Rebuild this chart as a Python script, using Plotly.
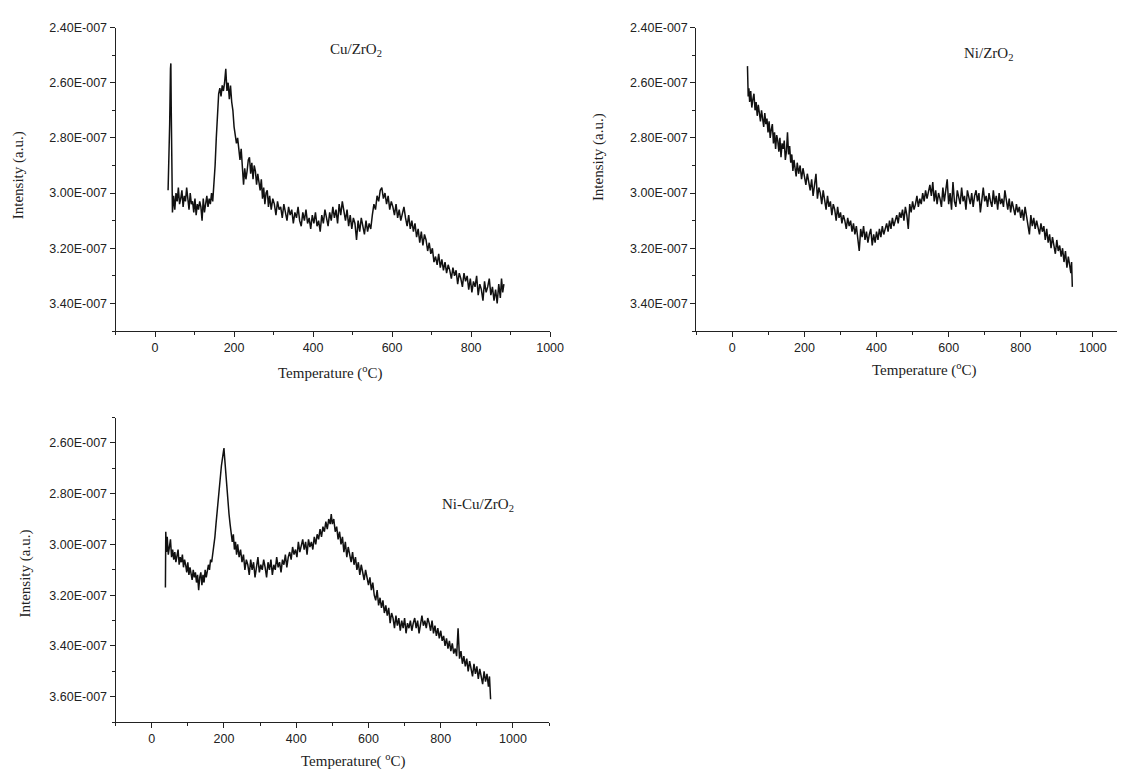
import plotly.graph_objects as go

W, H = 1132, 770

# ---------------- data (intensity in units of 1E-007) ----------------
cu_T = [33, 35, 37, 39, 40, 41, 42, 44, 47, 50,
        53, 56, 59, 62, 65, 68, 71, 74, 77, 80,
        83, 86, 89, 92, 95, 98, 101, 104, 107, 110,
        113, 116, 119, 122, 125, 128, 131, 134, 137, 140,
        143, 146, 149, 152, 155, 158, 161, 164, 167, 170,
        173, 176, 179, 182, 185, 188, 191, 194, 197, 200,
        203, 206, 209, 212, 215, 218, 221, 224, 227, 230,
        233, 236, 239, 242, 245, 248, 251, 254, 257, 260,
        263, 266, 269, 272, 275, 278, 281, 284, 287, 290,
        294, 298, 302, 306, 310, 314, 318, 322, 326, 330,
        334, 338, 342, 346, 350, 354, 358, 362, 366, 370,
        374, 378, 382, 386, 390, 394, 398, 402, 406, 410,
        414, 418, 422, 426, 430, 434, 438, 442, 446, 450,
        454, 458, 462, 466, 470, 474, 478, 482, 486, 490,
        494, 498, 502, 506, 510, 514, 518, 522, 526, 530,
        534, 538, 542, 546, 550, 554, 558, 562, 566, 570,
        574, 578, 582, 586, 590, 594, 598, 602, 606, 610,
        614, 618, 622, 626, 630, 634, 638, 642, 646, 650,
        654, 658, 662, 666, 670, 674, 678, 682, 686, 690,
        694, 698, 702, 706, 710, 714, 718, 722, 726, 730,
        734, 738, 742, 746, 750, 754, 758, 762, 766, 770,
        774, 778, 782, 786, 790, 794, 798, 802, 806, 810,
        814, 818, 822, 826, 830, 834, 838, 842, 846, 850,
        854, 858, 862, 866, 870, 874, 877, 880, 883]
cu_I = [2.99, 2.90, 2.75, 2.55, 2.53, 2.70, 2.98, 3.07, 3.01, 3.06,
        3.00, 3.03, 2.98, 3.04, 3.02, 2.99, 3.05, 3.01, 3.03, 2.98,
        3.02, 3.06, 3.00, 3.04, 3.03, 3.07, 3.02, 3.08, 3.04, 3.06,
        3.03, 3.05, 3.10, 3.02, 3.07, 3.04, 3.01, 3.05, 3.02, 3.04,
        3.00, 3.03, 2.97, 2.90, 2.80, 2.70, 2.64, 2.62, 2.65, 2.61,
        2.63, 2.60, 2.55, 2.63, 2.60, 2.66, 2.61, 2.67, 2.70, 2.76,
        2.79, 2.82, 2.80, 2.85, 2.88, 2.84, 2.90, 2.97, 2.91, 2.95,
        2.92, 2.88, 2.87, 2.93, 2.89, 2.95, 2.90, 2.92, 2.97, 2.93,
        2.96, 2.99, 2.95, 3.02, 2.98, 3.04, 3.00, 2.99, 3.05, 3.01,
        3.06, 3.02, 3.04, 3.08, 3.03, 3.06, 3.05, 3.09, 3.04, 3.07,
        3.10, 3.05, 3.08, 3.06, 3.11, 3.07, 3.09, 3.05, 3.10, 3.12,
        3.07, 3.10, 3.06, 3.11, 3.09, 3.13, 3.08, 3.11, 3.07, 3.12,
        3.10, 3.14, 3.08, 3.11, 3.06, 3.09, 3.12, 3.07, 3.10, 3.05,
        3.09, 3.06, 3.11, 3.04, 3.08, 3.03, 3.07, 3.10, 3.06, 3.12,
        3.08, 3.13, 3.09, 3.11, 3.17, 3.10, 3.14, 3.09, 3.12, 3.15,
        3.10, 3.14, 3.11, 3.13, 3.08, 3.04, 3.06, 3.01, 3.03, 2.99,
        2.98, 3.02, 3.00, 3.04, 3.01, 3.06, 3.03, 3.05, 3.08, 3.04,
        3.09, 3.06, 3.10, 3.07, 3.05, 3.09, 3.12, 3.08, 3.13, 3.10,
        3.14, 3.11, 3.16, 3.13, 3.18, 3.14, 3.19, 3.15, 3.17, 3.21,
        3.18, 3.22, 3.20, 3.25, 3.23, 3.26, 3.22, 3.27, 3.24, 3.28,
        3.25, 3.29, 3.26, 3.28, 3.31, 3.27, 3.30, 3.28, 3.33, 3.29,
        3.31, 3.34, 3.29, 3.32, 3.30, 3.35, 3.31, 3.36, 3.32, 3.34,
        3.30, 3.37, 3.33, 3.35, 3.39, 3.32, 3.36, 3.34, 3.31, 3.37,
        3.34, 3.39, 3.35, 3.40, 3.33, 3.38, 3.31, 3.36, 3.33]

ni_T = [42, 44, 46, 48, 51, 54, 57, 60, 63, 66,
        69, 72, 75, 78, 81, 84, 87, 90, 93, 96,
        99, 102, 105, 108, 111, 114, 117, 120, 123, 126,
        129, 132, 135, 138, 141, 144, 147, 150, 153, 156,
        159, 162, 165, 168, 171, 174, 177, 180, 184, 188,
        192, 196, 200, 204, 208, 212, 216, 220, 224, 228,
        232, 236, 240, 244, 248, 252, 256, 260, 264, 268,
        272, 276, 280, 284, 288, 292, 296, 300, 304, 308,
        312, 316, 320, 324, 328, 332, 336, 340, 344, 348,
        352, 356, 360, 364, 368, 372, 376, 380, 384, 388,
        392, 396, 400, 404, 408, 412, 416, 420, 424, 428,
        432, 436, 440, 444, 448, 452, 456, 460, 464, 468,
        472, 476, 480, 484, 488, 492, 496, 500, 504, 508,
        512, 516, 520, 524, 528, 532, 536, 540, 544, 548,
        552, 556, 560, 564, 568, 572, 576, 580, 584, 588,
        592, 596, 600, 604, 608, 612, 616, 620, 624, 628,
        632, 636, 640, 644, 648, 652, 656, 660, 664, 668,
        672, 676, 680, 684, 688, 692, 696, 700, 704, 708,
        712, 716, 720, 724, 728, 732, 736, 740, 744, 748,
        752, 756, 760, 764, 768, 772, 776, 780, 784, 788,
        792, 796, 800, 804, 808, 812, 816, 820, 824, 828,
        832, 836, 840, 844, 848, 852, 856, 860, 864, 868,
        872, 876, 880, 884, 888, 892, 896, 900, 904, 908,
        912, 916, 920, 924, 928, 932, 936, 939, 941, 943]
ni_I = [2.54, 2.65, 2.62, 2.67, 2.63, 2.69, 2.66, 2.64, 2.70, 2.67,
        2.72, 2.68, 2.71, 2.74, 2.70, 2.73, 2.76, 2.71, 2.75, 2.73,
        2.78, 2.74, 2.80, 2.77, 2.75, 2.82, 2.78, 2.84, 2.79, 2.81,
        2.85, 2.80, 2.87, 2.82, 2.84, 2.81, 2.88, 2.85, 2.78, 2.86,
        2.83, 2.89, 2.86, 2.92, 2.88, 2.91, 2.94, 2.89, 2.93, 2.90,
        2.95, 2.91, 2.94, 2.97, 2.93, 2.96, 2.99, 2.95, 3.01, 2.97,
        2.93, 3.02, 2.98, 3.00, 3.04, 2.99, 3.03, 3.06, 3.01, 3.05,
        3.03, 3.08, 3.04, 3.06, 3.10, 3.05, 3.09, 3.07, 3.11, 3.08,
        3.10, 3.13, 3.09, 3.12, 3.10, 3.14, 3.11, 3.15, 3.12, 3.16,
        3.21, 3.13, 3.16, 3.12, 3.17, 3.14, 3.18, 3.15, 3.13, 3.19,
        3.15, 3.18, 3.14, 3.17, 3.13, 3.16, 3.12, 3.15, 3.13, 3.11,
        3.14, 3.10, 3.13, 3.09, 3.12, 3.10, 3.08, 3.11, 3.07, 3.09,
        3.06, 3.10, 3.05, 3.08, 3.13, 3.04, 3.07, 3.03, 3.06, 3.04,
        3.01, 3.05, 3.02, 3.04, 3.00, 3.03, 2.99, 3.02, 3.00, 2.97,
        3.01, 2.96, 3.03, 2.99, 3.04, 3.00, 3.02, 3.05, 2.98, 3.03,
        2.99, 2.95, 3.04, 3.00, 3.06, 2.96, 3.03, 3.05, 2.99, 3.02,
        3.04, 2.98, 3.03, 3.01, 3.06, 2.99, 3.02, 3.04, 3.00, 3.05,
        3.01, 2.99, 3.03, 3.00, 3.07, 3.02, 2.98, 3.03, 3.01, 3.05,
        3.00, 3.03, 3.05, 2.99, 3.04, 3.01, 3.06, 3.00, 3.04, 3.02,
        3.05, 2.99, 3.03, 3.06, 3.02, 3.07, 3.03, 3.05, 3.08, 3.04,
        3.07, 3.05, 3.09, 3.06, 3.10, 3.05, 3.08, 3.11, 3.15, 3.08,
        3.12, 3.09, 3.13, 3.10, 3.12, 3.15, 3.11, 3.14, 3.12, 3.17,
        3.13, 3.18, 3.15, 3.20, 3.16, 3.19, 3.22, 3.17, 3.21, 3.19,
        3.23, 3.20, 3.25, 3.21, 3.27, 3.23, 3.26, 3.29, 3.25, 3.34]

nicu_T = [38, 39, 41, 43, 46, 49, 52, 55, 58, 61,
          64, 67, 70, 73, 76, 79, 82, 85, 88, 91,
          94, 97, 100, 103, 106, 109, 112, 115, 118, 121,
          124, 127, 130, 133, 136, 139, 142, 145, 148, 151,
          154, 157, 160, 163, 166, 169, 172, 175, 178, 181,
          184, 187, 190, 193, 196, 198, 200, 202, 205, 208,
          211, 214, 217, 220, 223, 226, 229, 232, 235, 238,
          242, 246, 250, 254, 258, 262, 266, 270, 274, 278,
          282, 286, 290, 294, 298, 302, 306, 310, 314, 318,
          322, 326, 330, 334, 338, 342, 346, 350, 354, 358,
          362, 366, 370, 374, 378, 382, 386, 390, 394, 398,
          402, 406, 410, 414, 418, 422, 426, 430, 434, 438,
          442, 446, 450, 454, 458, 462, 466, 470, 474, 478,
          482, 486, 490, 494, 497, 500, 504, 508, 512, 516,
          520, 524, 528, 532, 536, 540, 544, 548, 552, 556,
          560, 564, 568, 572, 576, 580, 584, 588, 592, 596,
          600, 604, 608, 612, 616, 620, 624, 628, 632, 636,
          640, 644, 648, 652, 656, 660, 664, 668, 672, 676,
          680, 684, 688, 692, 696, 700, 704, 708, 712, 716,
          720, 724, 728, 732, 736, 740, 744, 748, 752, 756,
          760, 764, 768, 772, 776, 780, 784, 788, 792, 796,
          800, 804, 808, 812, 816, 820, 824, 828, 832, 836,
          840, 844, 848, 852, 856, 860, 864, 868, 872, 876,
          880, 884, 888, 892, 896, 900, 904, 908, 912, 916,
          920, 924, 928, 932, 935, 937, 938]
nicu_I = [3.17, 2.95, 3.03, 2.97, 3.04, 3.00, 2.98, 3.05, 3.02, 3.06,
          3.03, 3.07, 3.04, 3.02, 3.08, 3.05, 3.07, 3.04, 3.09, 3.06,
          3.08, 3.11, 3.07, 3.12, 3.09, 3.11, 3.14, 3.10, 3.13, 3.11,
          3.15, 3.12, 3.18, 3.13, 3.11, 3.16, 3.12, 3.15, 3.10, 3.13,
          3.11, 3.08, 3.10, 3.06, 3.07, 3.04, 3.02, 2.97, 2.92, 2.87,
          2.82, 2.77, 2.72, 2.69, 2.66, 2.64, 2.62, 2.66, 2.72, 2.79,
          2.84, 2.88, 2.92, 2.95, 2.99, 2.96, 3.02, 2.99, 3.04, 3.00,
          3.05, 3.02, 3.07, 3.04, 3.10, 3.06, 3.08, 3.12, 3.06, 3.10,
          3.07, 3.13, 3.08, 3.05, 3.11, 3.08, 3.10, 3.06, 3.09, 3.13,
          3.07, 3.10, 3.06, 3.12, 3.08, 3.10, 3.05, 3.09, 3.07, 3.11,
          3.06, 3.08, 3.04, 3.09, 3.05, 3.03, 3.06, 3.01, 3.04, 3.02,
          3.05, 2.99, 3.03, 3.00, 2.98, 3.02, 2.99, 3.04, 2.98, 3.01,
          2.99, 3.02, 2.97, 3.00, 2.96, 2.98, 2.94, 2.97, 2.93, 2.95,
          2.91, 2.94, 2.90, 2.92, 2.88, 2.92, 2.90, 2.95, 2.93, 2.98,
          2.95, 3.00, 2.97, 3.03, 2.99, 3.05, 3.01, 3.04, 3.07, 3.03,
          3.08, 3.05, 3.10, 3.07, 3.12, 3.08, 3.11, 3.14, 3.10, 3.13,
          3.16, 3.13, 3.18, 3.15, 3.20, 3.22, 3.18, 3.24, 3.21, 3.25,
          3.22, 3.27, 3.24, 3.28, 3.25, 3.31, 3.27, 3.29, 3.33, 3.28,
          3.32, 3.29, 3.34, 3.30, 3.33, 3.29, 3.35, 3.31, 3.33, 3.30,
          3.34, 3.31, 3.29, 3.33, 3.30, 3.35, 3.31, 3.28, 3.32, 3.30,
          3.33, 3.29, 3.31, 3.34, 3.30, 3.35, 3.32, 3.36, 3.33, 3.37,
          3.34, 3.38, 3.36, 3.40, 3.37, 3.41, 3.38, 3.42, 3.39, 3.43,
          3.41, 3.44, 3.33, 3.45, 3.42, 3.47, 3.44, 3.48, 3.45, 3.50,
          3.46, 3.49, 3.52, 3.47, 3.51, 3.48, 3.53, 3.49, 3.52, 3.55,
          3.50, 3.54, 3.51, 3.56, 3.52, 3.57, 3.61]

x_major = [0, 200, 400, 600, 800, 1000]
x_minor = [-100, 100, 300, 500, 700, 900, 1100]
y_major_top = [2.40, 2.60, 2.80, 3.00, 3.20, 3.40]
y_minor_top = [2.50, 2.70, 2.90, 3.10, 3.30, 3.50]
y_major_bot = [2.60, 2.80, 3.00, 3.20, 3.40, 3.60]
y_minor_bot = [2.50, 2.70, 2.90, 3.10, 3.30, 3.50, 3.70]


def lab(v):
    return "%.2fE-007" % v


# ---------------- figure ----------------
def fx(p):
    return p / W


def fy(p):
    return 1 - p / H


fig = go.Figure()
line = dict(color="#111111", width=1.5)
fig.add_trace(go.Scatter(x=cu_T, y=cu_I, mode="lines", line=line, xaxis="x", yaxis="y"))
fig.add_trace(go.Scatter(x=ni_T, y=ni_I, mode="lines", line=line, xaxis="x2", yaxis="y2"))
fig.add_trace(go.Scatter(x=nicu_T, y=nicu_I, mode="lines", line=line, xaxis="x3", yaxis="y3"))

tickfont = dict(family="Liberation Sans, Arial, sans-serif", size=12.5, color="#222222")
common = dict(showline=True, linecolor="#222222", linewidth=1, ticks="outside", ticklen=5,
              tickcolor="#222222", tickwidth=1, showgrid=False, zeroline=False,
              tickfont=tickfont, mirror=False)


def xax(domain, rng):
    return dict(domain=domain, range=rng, tickmode="array", tickvals=x_major,
                ticktext=[str(v) for v in x_major],
                minor=dict(tickvals=x_minor, ticks="outside", ticklen=3, tickcolor="#222222"),
                **common)


def yax(domain, rng, major, minor, anchor):
    return dict(domain=domain, range=rng, tickmode="array", tickvals=major,
                ticktext=[lab(v) for v in major], anchor=anchor,
                minor=dict(tickvals=minor, ticks="outside", ticklen=3, tickcolor="#222222"),
                **common)


fig.update_layout(
    width=W, height=H, margin=dict(l=0, r=0, t=0, b=0),
    paper_bgcolor="white", plot_bgcolor="white", showlegend=False,
    xaxis=dict(anchor="y", **xax([fx(117), fx(557)], [-100, 1000])),
    yaxis=yax([fy(327), fy(20.7)], [3.50, 2.40], y_major_top, y_minor_top, "x"),
    xaxis2=dict(anchor="y2", **xax([fx(705), fx(1131)], [-100, 1067])),
    yaxis2=yax([fy(327), fy(20.7)], [3.50, 2.40], y_major_top, y_minor_top, "x2"),
    xaxis3=dict(anchor="y3", **xax([fx(117), fx(556)], [-100, 1100])),
    yaxis3=yax([fy(721.7), fy(414.3)], [3.70, 2.50], y_major_bot, y_minor_bot, "x3"),
)

serif = dict(family="Liberation Serif, Times New Roman, serif", size=15, color="#222222")
ann = [
    (360, 43, "Cu/ZrO<sub>2</sub>", 0),
    (1001, 47, "Ni/ZrO<sub>2</sub>", 0),
    (484, 503, "Ni-Cu/ZrO<sub>2</sub>", 0),
    (335, 369, "Temperature (<sup>o</sup>C)", 0),
    (936, 366, "Temperature (<sup>o</sup>C)", 0),
    (358, 760, "Temperature( <sup>o</sup>C)", 0),
    (19, 170, "Intensity (a.u.)", -90),
    (606, 152, "Intensity (a.u.)", -90),
    (26, 572, "Intensity (a.u.)", -90),
]
for x, y, t, ang in ann:
    fig.add_annotation(x=fx(x), y=fy(y), xref="paper", yref="paper", text=t, showarrow=False,
                       font=serif, textangle=ang, xanchor="center", yanchor="middle")

fig.write_html("out.html")
